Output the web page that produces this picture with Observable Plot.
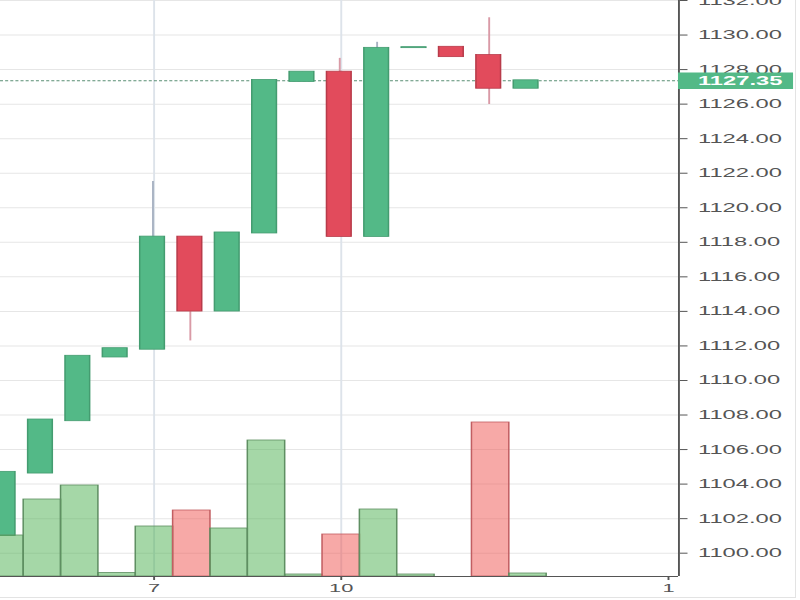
<!DOCTYPE html>
<html><head><meta charset="utf-8">
<script src="https://cdn.jsdelivr.net/npm/d3@7"></script>
<script src="https://cdn.jsdelivr.net/npm/@observablehq/plot@0.6"></script>
<style>
html,body{margin:0;padding:0;background:#fff;}
#frame{position:relative;width:795px;height:597px;overflow:hidden;border-right:1px solid #e3e3e3;border-bottom:1px solid #e3e3e3;background:#fff;}
#stretch{position:absolute;left:0;top:0;width:421px;height:600px;transform:scaleX(1.9);transform-origin:0 0;}
#stretch svg{position:absolute;left:0;top:0;}
</style></head><body>
<div id="frame"><div id="stretch"></div></div>
<script>
// ---- data ----
const slots  = [-4, -3, -2, -1, 0, 1, 2, 3, 4, 5, 6, 7, 8, 9, 10];
const opens  = [1101.02, 1104.64, 1107.67, 1111.36, 1111.81, 1118.30, 1114.02, 1118.54, 1127.31, 1127.85, 1118.34, 1129.27, 1129.29, 1128.81, 1126.92];
const highs  = [1104.68, 1107.71, 1111.40, 1111.84, 1121.52, 1118.30, 1118.54, 1127.37, 1127.85, 1128.65, 1129.58, 1129.27, 1129.29, 1131.00, 1127.35];
const lows   = [1101.02, 1104.64, 1107.67, 1111.36, 1111.81, 1112.29, 1114.02, 1118.54, 1127.31, 1118.34, 1118.34, 1129.27, 1128.75, 1125.98, 1126.92];
const closes = [1104.68, 1107.71, 1111.40, 1111.84, 1118.30, 1114.02, 1118.54, 1127.37, 1127.85, 1118.34, 1129.23, 1129.27, 1128.75, 1126.92, 1127.35];
const volumes = [1025, 1925, 2275, 90, 1250, 1650, 1200, 3400, 50, 1050, 1675, 50, 0, 3850, 75];
const lastPrice = 1127.35;
const priceTicks = [1100, 1102, 1104, 1106, 1108, 1110, 1112, 1114, 1116, 1118, 1120, 1122, 1124, 1126, 1128, 1130, 1132];
const timeTickPos = [0.03, 5.04, 13.8];
const timeTickLabels = ["7", "10", "1"];
const timeGridPos = [0.03, 5.04];

// ---- layout / style ----
const W = 421, H = 600;
const M = {top: 0, right: 64.16, bottom: 24, left: 0};
const xDomain = [-4.07, 14.08];
const yDomain = [1098.65, 1132];
const volDomain = [0, 14400];
const bodyHalf = 0.33, volHalf = 0.5, labelSpan = 3.08;
const up = "#53b987", upEdge = "#449c70", upWick = "#a8b2c2";
const down = "#e24b5c", downEdge = "#b83b4a", downWick = "#d99aa6";
const font = "'Liberation Sans', Arial, sans-serif";

const data = slots.map((s, i) => ({slot: s, open: opens[i], high: highs[i], low: lows[i], close: closes[i], volume: volumes[i]}));
const isUp = d => d.close >= d.open;

const common = {
  width: W, height: H,
  marginTop: M.top, marginRight: M.right, marginBottom: M.bottom, marginLeft: M.left,
  x: {domain: xDomain},
  color: {type: "identity"},
  style: {background: "transparent", overflow: "visible", fontFamily: font, fontSize: "12.5px", maxWidth: "none"}
};

const pricePlot = Plot.plot({
  ...common,
  y: {domain: yDomain},
  marks: [
    Plot.gridY(priceTicks, {stroke: "#e6e6e6", strokeOpacity: 1}),
    Plot.gridX(timeGridPos, {stroke: "#dde3ea", strokeOpacity: 1}),
    Plot.ruleY([lastPrice], {stroke: "#5a8f74", strokeDasharray: "1.6,1.1"}),
    Plot.ruleX(data, {x: "slot", y1: "low", y2: "high", stroke: d => isUp(d) ? upWick : downWick, clip: true}),
    Plot.rect(data, {x1: d => d.slot - bodyHalf, x2: d => d.slot + bodyHalf, y1: "open", y2: "close",
      fill: d => isUp(d) ? up : down, stroke: d => isUp(d) ? upEdge : downEdge, strokeWidth: 0.8,
      insetTop: -0.5, insetBottom: -0.5, clip: true}),
    Plot.ruleY([yDomain[0]], {stroke: "#555"}),
    Plot.ruleX([xDomain[1]], {stroke: "#555"}),
    Plot.axisY({anchor: "right", ticks: priceTicks, tickFormat: d => d.toFixed(2), tickSize: 4, tickPadding: 6,
      color: "#555", label: null, fontSize: 12.5}),
    Plot.axisX({ticks: timeTickPos, tickFormat: d => timeTickLabels[timeTickPos.indexOf(d)], tickSize: 4, tickPadding: 3,
      color: "#555", label: null, fontSize: 11.5}),
    Plot.ruleY([lastPrice], {x1: () => xDomain[1], x2: () => xDomain[1] + labelSpan, stroke: up, strokeWidth: 16.6}),
    Plot.text([lastPrice], {x: () => xDomain[1], y: d => d, dx: 10, text: d => d.toFixed(2), textAnchor: "start",
      fill: "white", fontWeight: "bold", fontSize: 12.5})
  ]
});

const volumePlot = Plot.plot({
  ...common,
  y: {domain: volDomain, axis: null},
  marks: [
    Plot.rect(data, {x1: d => d.slot - volHalf, x2: d => d.slot + volHalf, y1: () => 0, y2: "volume",
      fill: d => isUp(d) ? "#4caf50" : "#ef5350", fillOpacity: 0.5,
      stroke: d => isUp(d) ? "#5f8f62" : "#c25e62", strokeWidth: 0.8, dx: 1, clip: true}),
    Plot.axisX({ticks: [], label: null})
  ]
});

const holder = document.getElementById("stretch");
holder.appendChild(pricePlot);
holder.appendChild(volumePlot);
</script>
</body></html>
